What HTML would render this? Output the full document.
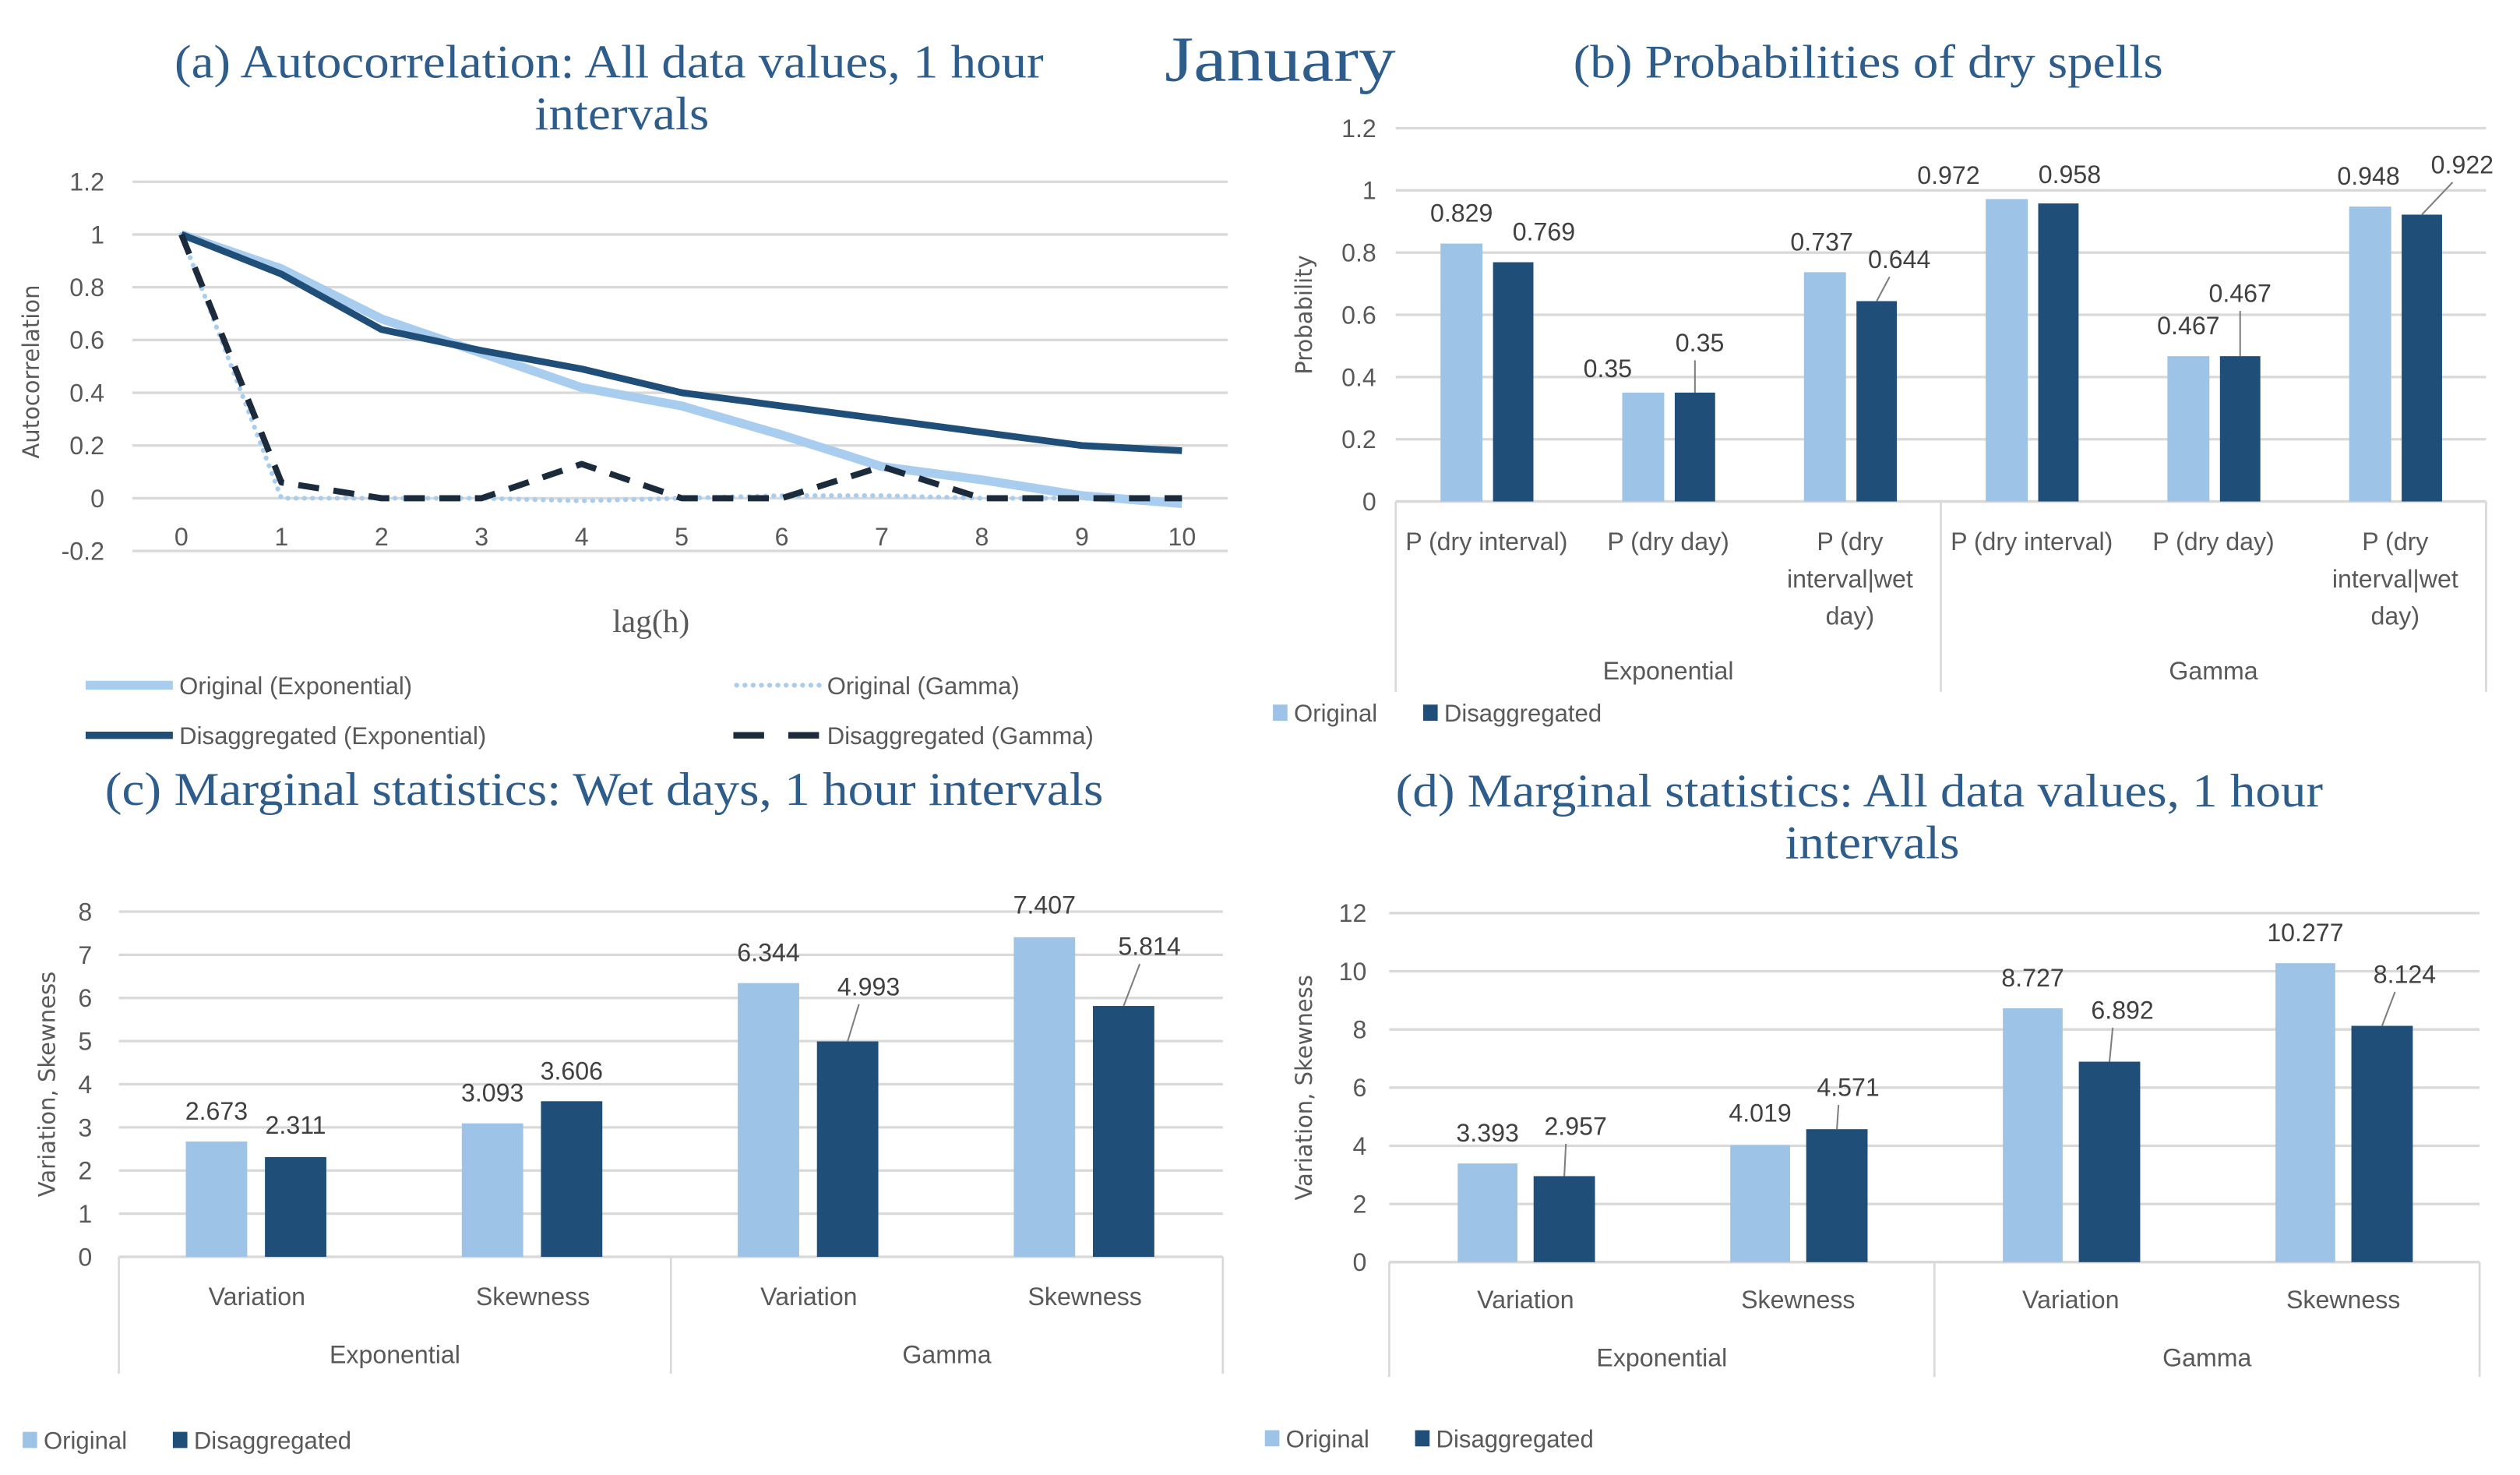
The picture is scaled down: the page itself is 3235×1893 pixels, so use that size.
<!DOCTYPE html>
<html><head><meta charset="utf-8"><title>January charts</title>
<style>
html,body{margin:0;padding:0;background:#fff;}
svg{display:block;}
.tt{font-family:"Liberation Serif",serif;fill:#2e5d8c;}
.tk{font-family:"Liberation Sans",sans-serif;font-size:15.5px;fill:#595959;}
.dl{font-family:"Liberation Sans",sans-serif;font-size:15.5px;fill:#404040;}
.ax{font-family:"DejaVu Sans",sans-serif;font-size:14px;fill:#595959;}
.lg{font-family:"Liberation Sans",sans-serif;font-size:15px;fill:#595959;}
</style></head>
<body>
<svg id="root" width="3235" height="1893" viewBox="0 0 1560 912.7" preserveAspectRatio="none" xmlns="http://www.w3.org/2000/svg">
<rect x="0" y="0" width="1560" height="912.7" fill="#fff"/>
<text class="tt" x="721" y="50" font-size="40" textLength="143" lengthAdjust="spacingAndGlyphs">January</text>
<text class="tt" x="108" y="48" font-size="29" textLength="538" lengthAdjust="spacingAndGlyphs">(a) Autocorrelation: All data values, 1 hour</text>
<text class="tt" x="331" y="80" font-size="29" textLength="108" lengthAdjust="spacingAndGlyphs">intervals</text>
<text class="tt" x="974" y="48" font-size="29" textLength="365" lengthAdjust="spacingAndGlyphs">(b) Probabilities of dry spells</text>
<text class="tt" x="65" y="498" font-size="29" textLength="618" lengthAdjust="spacingAndGlyphs">(c) Marginal statistics: Wet days, 1 hour intervals</text>
<text class="tt" x="864" y="499" font-size="29" textLength="574" lengthAdjust="spacingAndGlyphs">(d) Marginal statistics: All data values, 1 hour</text>
<text class="tt" x="1105" y="531" font-size="29" textLength="108" lengthAdjust="spacingAndGlyphs">intervals</text>
<g id="ga"></g>
<g id="gb"></g>
<g id="gc"></g>
<g id="gd"></g>
</svg>
<script>
// ---------- Chart (a) data ----------
const lagsA = [0,1,2,3,4,5,6,7,8,9,10];
const yTicksA = [-0.2,0,0.2,0.4,0.6,0.8,1,1.2];
const origExpA = [1,0.87,0.68,0.55,0.42,0.35,0.24,0.12,0.07,0.01,-0.02];
const disExpA = [1,0.85,0.64,0.56,0.49,0.40,0.35,0.30,0.25,0.20,0.18];
const origGamA = [1,0,0,0,-0.01,0,0.01,0.01,0,0,-0.01];
const disGamA = [1,0.06,0,0,0.13,0,0,0.12,0,0,0];
// ---------- Chart (b) data ----------
const catsB = [["P (dry interval)"],["P (dry day)"],["P (dry","interval|wet","day)"],["P (dry interval)"],["P (dry day)"],["P (dry","interval|wet","day)"]];
const groupsB = ["Exponential","Gamma"];
const origB = [0.829,0.35,0.737,0.972,0.467,0.948];
const disB = [0.769,0.35,0.644,0.958,0.467,0.922];
const yTicksB = [0,0.2,0.4,0.6,0.8,1,1.2];
// ---------- Chart (c) data ----------
const catsC = ["Variation","Skewness","Variation","Skewness"];
const groupsC = ["Exponential","Gamma"];
const origC = [2.673,3.093,6.344,7.407];
const disC = [2.311,3.606,4.993,5.814];
const yTicksC = [0,1,2,3,4,5,6,7,8];
// ---------- Chart (d) data ----------
const catsD = ["Variation","Skewness","Variation","Skewness"];
const groupsD = ["Exponential","Gamma"];
const origD = [3.393,4.019,8.727,10.277];
const disD = [2.957,4.571,6.892,8.124];
const yTicksD = [0,2,4,6,8,10,12];

const NS="http://www.w3.org/2000/svg";
const LIGHT="#9dc3e6", DARK="#1f4e79", GRID="#d9d9d9";
function mk(parent,tag,attrs,txt){const e=document.createElementNS(NS,tag);for(const k in attrs)e.setAttribute(k,attrs[k]);if(txt!==undefined)e.textContent=txt;parent.appendChild(e);return e;}

// ===== Chart A =====
(function(){
  const g=document.getElementById('ga');
  const x=v=>112.3+v*61.94, y=v=>308.3-v*163.2;
  yTicksA.forEach(t=>{
    const l=mk(g,'line',{x1:82,x2:760,y1:y(t),y2:y(t),stroke:GRID,'stroke-width':1.6});
    
    
    const tx=mk(g,'text',{class:'tk',x:64.6,y:y(t)+5.5,'text-anchor':'end'},String(t));
    
    
  });
  lagsA.forEach(v=>{
    const tx=mk(g,'text',{class:'tk',x:x(v),y:337.5,'text-anchor':'middle'},String(v));
    
    
  });
  const yt=mk(g,'text',{class:'ax',transform:'translate(24,230) rotate(-90)','text-anchor':'middle'},'Autocorrelation');
  
  
  const xt=mk(g,'text',{class:'tt',x:403,y:391,'text-anchor':'middle','font-size':20,fill:'#595959',style:'fill:#595959'},'lag(h)');
  
  
  function series(vals,stroke,w,dash,name){
    const d=vals.map((v,i)=>(i?'L':'M')+x(lagsA[i]).toFixed(1)+' '+y(v).toFixed(1)).join(' ');
    const p=mk(g,'path',{d:d,fill:'none',stroke:stroke,'stroke-width':w,'stroke-linejoin':'round','stroke-dasharray':dash||'none','stroke-linecap':dash==='0.1 5'?'round':'butt'});
    
    
  }
  series(origExpA,'#a9cdee',5.5,null,'line-original-exponential');
  series(origGamA,'#a9cdee',3,'0.1 5','line-original-gamma');
  series(disExpA,DARK,4.2,null,'line-disaggregated-exponential');
  series(disGamA,'#1c2b3c',3.8,'13 9','line-disaggregated-gamma');
  const leg=[[53,424,'#a9cdee',5.5,null,'Original (Exponential)'],[454,424,'#a9cdee',3,'0.1 5','Original (Gamma)'],[53,455,DARK,4.5,null,'Disaggregated (Exponential)'],[454,455,'#1c2b3c',4,'19 15','Disaggregated (Gamma)']];
  leg.forEach(r=>{
    const e=mk(g,'g',{});
    
    
    mk(e,'line',{x1:r[0]+(r[4]==='0.1 5'?2:0),x2:r[0]+54,y1:r[1],y2:r[1],stroke:r[2],'stroke-width':r[3],'stroke-dasharray':r[4]||'none','stroke-linecap':r[4]==='0.1 5'?'round':'butt'});
    mk(e,'text',{class:'lg',x:r[0]+58,y:r[1]+5.5},r[5]);
  });
})();

// ===== Generic clustered bar chart =====
function barChart(o){
  const g=document.getElementById(o.id);
  const y=v=>o.y0-v*o.k;
  const n=o.cats.length, cw=(o.x1-o.x0)/n;
  o.ticks.forEach(t=>{
    const l=mk(g,'line',{x1:o.x0,x2:o.x1,y1:y(t),y2:y(t),stroke:GRID,'stroke-width':1.6});
    
    
    const tx=mk(g,'text',{class:'tk',x:o.tickX,y:y(t)+5.5,'text-anchor':'end'},String(t));
    
    
  });
  const yt=mk(g,'text',{class:'ax',transform:'translate('+o.titleX+','+((y(o.ticks[o.ticks.length-1])+o.y0)/2)+') rotate(-90)','text-anchor':'middle'},o.yTitle);
  
  
  // axis frame lines
  const half=n/2;
  [0,half,n].forEach(i=>{
    const l=mk(g,'line',{x1:o.x0+i*cw,x2:o.x0+i*cw,y1:o.y0,y2:o.vEnd,stroke:GRID,'stroke-width':1.3});
    
    
  });
  const bl=mk(g,'line',{x1:o.x0,x2:o.x1,y1:o.y0,y2:o.y0,stroke:GRID,'stroke-width':1.6});
  
  
  o.cats.forEach((c,i)=>{
    const cx=o.x0+cw*(i+0.5);
    const lines=Array.isArray(c)?c:[c];
    const t=mk(g,'text',{class:'tk','text-anchor':'middle'});
    
    
    lines.forEach((s,j)=>mk(t,'tspan',{x:cx,y:o.catY+5.5+j*o.lineH},s));
    const vals=[[o.orig[i],o.lo[0],o.lo[1],LIGHT,'bar-original'],[o.dis[i],o.do_[0],o.do_[1],DARK,'bar-disaggregated']];
    vals.forEach((b,k)=>{
      const top=y(b[0]);
      const r=mk(g,'rect',{x:cx+b[1],y:top,width:b[2]-b[1],height:o.y0-top,fill:b[3]});
      
      
      const off=o.off[k][i];
      const bc=cx+(b[1]+b[2])/2;
      const lx=bc+off[0], ly=top-19-off[1];
      const tx=mk(g,'text',{class:'dl',x:lx,y:ly+5.5,'text-anchor':'middle'},String(b[0]));
      
      
      if(off[2]){
        const ld=mk(g,'line',{x1:lx-(off[0]>0?Math.min(off[0],6):0),y1:ly+11,x2:bc,y2:top,stroke:'#7f7f7f','stroke-width':1});
        
        
      }
    });
  });
  o.groups.forEach((gname,i)=>{
    const t=mk(g,'text',{class:'tk',x:o.x0+cw*half*(i+0.5),y:o.grpY+5.5,'text-anchor':'middle'},gname);
    
    
  });
  const lg=mk(g,'g',{});
  
  
  mk(lg,'rect',{x:o.legX,y:o.legY-5,width:9,height:10,fill:LIGHT});
  mk(lg,'text',{class:'lg',x:o.legX+13,y:o.legY+5.5},'Original');
  mk(lg,'rect',{x:o.legX+93,y:o.legY-5,width:9,height:10,fill:DARK});
  mk(lg,'text',{class:'lg',x:o.legX+106,y:o.legY+5.5},'Disaggregated');
}

barChart({id:'gb',p:'b',x0:864,x1:1539,y0:310.3,k:192.5,ticks:yTicksB,tickX:852,titleX:812,yTitle:'Probability',
  cats:catsB,groups:groupsB,orig:origB,dis:disB,lo:[-28.5,-2.5],do_:[4,29],catY:335,lineH:23,grpY:415,vEnd:428,legX:788,legY:441,
  off:[[[0,0,0],[-22,-4,0],[-2,0,0],[-36,-4,0],[0,0,0],[-1,0,0]],
       [[19,0,0],[3,12,1],[14,7,1],[7,-1,0],[0,20,1],[25,12,1]]]});
barChart({id:'gc',p:'c',x0:73.6,x1:757,y0:777.7,k:26.7,ticks:yTicksC,tickX:57,titleX:34,yTitle:'Variation, Skewness',
  cats:catsC,groups:groupsC,orig:origC,dis:disC,lo:[-44,-6],do_:[5,43],catY:802,lineH:22,grpY:838,vEnd:850,legX:14,legY:891,
  off:[[[0,0,0],[0,0,0],[0,0,0],[0,1,0]],
       [[0,1,0],[0,0,0],[13,15,1],[16,18,1]]]});
barChart({id:'gd',p:'d',x0:860,x1:1535,y0:781,k:18,ticks:yTicksD,tickX:846,titleX:812,yTitle:'Variation, Skewness',
  cats:catsD,groups:groupsD,orig:origD,dis:disD,lo:[-42,-5],do_:[5,43],catY:804,lineH:22,grpY:840,vEnd:852,legX:783,legY:890,
  off:[[[0,0,0],[0,1,0],[0,0,0],[0,0,0]],
       [[7,12,1],[7,7,1],[8,13,1],[14,13,1]]]});
</script>
</body></html>
